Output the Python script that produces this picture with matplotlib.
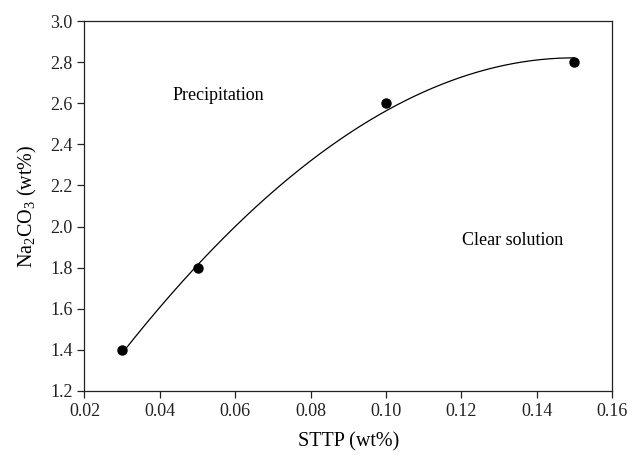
import numpy as np
import matplotlib
matplotlib.use('Agg')
from matplotlib import pyplot as plt

plt.rcParams['font.family'] = ['Liberation Serif', 'DejaVu Serif']
plt.rcParams['mathtext.fontset'] = 'custom'
plt.rcParams['mathtext.rm'] = 'Liberation Serif'

# STTP concentration vs. Na2CO3 boundary
sttp = [0.03, 0.05, 0.10, 0.15]
na2co3 = [1.4, 1.8, 2.6, 2.8]
fit_weights = [1.0, 2.5, 1.0, 1.0]


def fit_curve(x, y, w, xs):
    # weighted least-squares cubic, levelling off (zero slope) at the last point
    x = np.asarray(x, float)
    y = np.asarray(y, float)
    W = np.diag(w)
    V = np.vander(x, 4, increasing=True)
    xe = x[-1]
    g = np.array([0, 1, 2 * xe, 3 * xe ** 2])
    K = np.zeros((5, 5))
    K[:4, :4] = 2 * V.T @ W @ V
    K[:4, 4] = g
    K[4, :4] = g
    rhs = np.concatenate([2 * V.T @ W @ y, [0]])
    c = np.linalg.solve(K, rhs)[:4]
    return np.vander(xs, 4, increasing=True) @ c


fig = plt.figure(figsize=(6.32, 4.58), dpi=100)
ax = fig.add_axes([0.1337, 0.1463, 0.8347, 0.8078])

xs = np.linspace(min(sttp), max(sttp), 300)
ax.plot(xs, fit_curve(sttp, na2co3, fit_weights, xs), color='black', linewidth=0.9)
ax.plot(sttp, na2co3, 'o', color='black', markersize=6.5)

ax.text(0.0555, 2.64, 'Precipitation', fontsize=13, ha='center', va='center')
ax.text(0.1335, 1.93, 'Clear solution', fontsize=13, ha='center', va='center')

ax.set_xlim(0.02, 0.16)
ax.set_ylim(1.2, 3.0)
ax.set_xticks(np.arange(0.02, 0.161, 0.02))
ax.set_yticks(np.arange(1.2, 3.01, 0.2))
ax.xaxis.set_major_formatter(matplotlib.ticker.FormatStrFormatter('%.2f'))
ax.yaxis.set_major_formatter(matplotlib.ticker.FormatStrFormatter('%.1f'))
ax.tick_params(direction='out', length=5, width=0.9, labelsize=13, colors='#222222')
for s in ax.spines.values():
    s.set_linewidth(0.9)
    s.set_color('#222222')

ax.set_xlabel('STTP (wt%)', fontsize=14.5, labelpad=9)
ax.set_ylabel(r'Na$_2$CO$_3$ (wt%)', fontsize=14.5, labelpad=8)

plt.savefig('out.png', dpi=100)
